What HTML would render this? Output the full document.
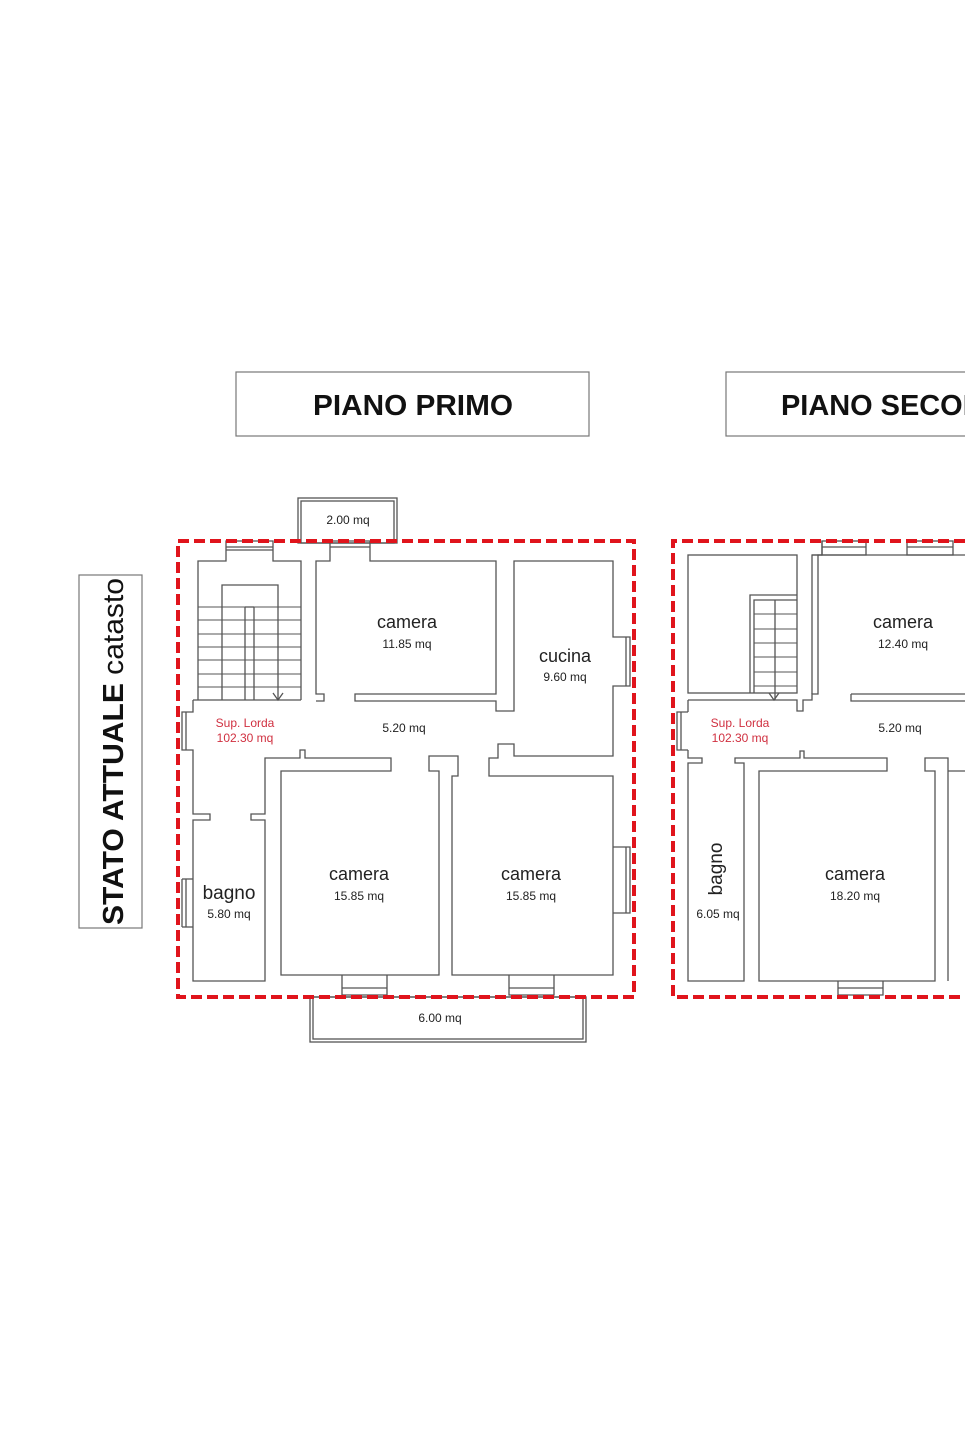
<!DOCTYPE html>
<html><head><meta charset="utf-8"><style>
html,body{margin:0;padding:0;background:#fff;width:965px;height:1448px;overflow:hidden}
svg{display:block}
text{font-family:"Liberation Sans",sans-serif}
</style></head><body>
<svg width="965" height="1448" viewBox="0 0 965 1448" xmlns="http://www.w3.org/2000/svg">
<rect width="965" height="1448" fill="#fff"/>
<!-- titles -->
<rect x="236" y="372" width="353" height="64" fill="none" stroke="#777" stroke-width="1.2"/>
<text x="413" y="415" font-size="29" font-weight="bold" text-anchor="middle" textLength="200" lengthAdjust="spacingAndGlyphs" fill="#111">PIANO PRIMO</text>
<rect x="726" y="372" width="260" height="64" fill="none" stroke="#777" stroke-width="1.2"/>
<text x="781" y="415" font-size="29" font-weight="bold" fill="#111" textLength="246" lengthAdjust="spacingAndGlyphs">PIANO SECONDO</text>
<rect x="79" y="575" width="63" height="353" fill="none" stroke="#777" stroke-width="1.2"/>
<g transform="translate(123,925) rotate(-90)">
<text x="0" y="0" font-size="29" fill="#111" textLength="347" lengthAdjust="spacingAndGlyphs"><tspan font-weight="bold">STATO ATTUALE</tspan> catasto</text>
</g>

<g fill="none" stroke="#555" stroke-width="1.3">
<!-- LEFT PLAN -->
<rect x="298" y="498" width="99" height="45"/><rect x="301" y="501" width="93" height="42"/>
<rect x="310" y="997" width="276" height="45"/><rect x="313" y="997" width="270" height="42"/>
<polyline points="301,700 301,561 273,561 273,541 226,541 226,561 198,561 198,700"/>
<line x1="226" y1="547" x2="273" y2="547"/><line x1="226" y1="550" x2="273" y2="550"/>
<polyline points="222,700 222,585 278,585 278,700"/>
<line x1="245" y1="607" x2="245" y2="700"/><line x1="254" y1="607" x2="254" y2="700"/><line x1="245" y1="607" x2="254" y2="607"/>
<g stroke-width="1">
<line x1="198" y1="607" x2="301" y2="607"/><line x1="198" y1="620" x2="301" y2="620"/><line x1="198" y1="634" x2="301" y2="634"/>
<line x1="198" y1="647" x2="301" y2="647"/><line x1="198" y1="660" x2="301" y2="660"/><line x1="198" y1="674" x2="301" y2="674"/><line x1="198" y1="687" x2="301" y2="687"/>
</g>
<polyline points="273,693 278,700 283,693"/>
<polyline points="193,700 193,712 182,712 182,750 193,750 193,814 210,814 210,820 193,820 193,981 265,981 265,820 251,820 251,814 265,814 265,758 300,758 300,750 305,750 305,758 391,758 391,771 281,771 281,975 439,975 439,771 429,771 429,756 458,756 458,776 452,776 452,975 613,975 613,776 489,776 489,758 498,758 498,744 514,744 514,756 613,756 613,686 630,686 630,637 613,637 613,561 514,561 514,711 496,711 496,701 355,701 355,694 496,694 496,561 370,561 370,541 330,541 330,561 316,561 316,694 324,694 324,701 316,701"/>
<line x1="301" y1="700" x2="193" y2="700"/>
<line x1="330" y1="547" x2="370" y2="547"/>
<line x1="186" y1="712" x2="186" y2="750"/>
<line x1="182" y1="879" x2="182" y2="927"/><line x1="186" y1="879" x2="186" y2="927"/><line x1="182" y1="879" x2="193" y2="879"/><line x1="182" y1="927" x2="193" y2="927"/>
<line x1="626" y1="637" x2="626" y2="686"/>
<polyline points="613,847 630,847 630,913 613,913"/><line x1="626" y1="847" x2="626" y2="913"/>
<polyline points="342,975 342,995 387,995 387,975"/><line x1="342" y1="988" x2="387" y2="988"/>
<polyline points="509,975 509,995 554,995 554,975"/><line x1="509" y1="988" x2="554" y2="988"/>

<!-- RIGHT PLAN -->
<rect x="688" y="555" width="109" height="138"/>
<polyline points="750,693 750,595 797,595"/>
<polyline points="754,693 754,600 797,600"/>
<line x1="775" y1="600" x2="775" y2="700"/>
<g stroke-width="1">
<line x1="754" y1="614" x2="797" y2="614"/><line x1="754" y1="629" x2="797" y2="629"/><line x1="754" y1="643" x2="797" y2="643"/>
<line x1="754" y1="657" x2="797" y2="657"/><line x1="754" y1="672" x2="797" y2="672"/><line x1="754" y1="686" x2="797" y2="686"/>
</g>
<polyline points="769,693 774,700 779,693"/>
<polyline points="688,700 797,700 797,711 803,711 803,700 812,700 812,694 818,694 818,555 822,555 822,541"/>
<polyline points="812,694 812,555 822,555"/>
<polyline points="851,694 965,694"/><polyline points="851,694 851,701 965,701"/>
<line x1="812" y1="555" x2="965" y2="555"/>
<rect x="822" y="541" width="44" height="14"/><line x1="822" y1="547" x2="866" y2="547"/>
<rect x="907" y="541" width="46" height="14"/><line x1="907" y1="547" x2="953" y2="547"/>
<polyline points="688,712 677,712 677,750 688,750"/><line x1="681" y1="712" x2="681" y2="750"/>
<line x1="688" y1="700" x2="688" y2="712"/>
<polyline points="688,750 688,758 702,758 702,763 688,763 688,981 744,981 744,763 735,763 735,758 800,758 800,751 804,751 804,758 887,758 887,771 759,771 759,981 935,981 935,771 925,771 925,758 948,758 948,981"/>
<line x1="948" y1="771" x2="965" y2="771"/>
<polyline points="838,981 838,995 883,995 883,981"/><line x1="838" y1="988" x2="883" y2="988"/>
</g>

<g fill="none" stroke="#e0141c" stroke-width="4" stroke-dasharray="11,5">
<rect x="178" y="541" width="456" height="456"/>
<polyline points="965,541 673,541 673,997 965,997"/>
</g>

<g fill="#222" text-anchor="middle">
<text x="348" y="524" font-size="12">2.00 mq</text>
<text x="407" y="628" font-size="18">camera</text>
<text x="407" y="648" font-size="12">11.85 mq</text>
<text x="565" y="662" font-size="18">cucina</text>
<text x="565" y="681" font-size="12">9.60 mq</text>
<text x="404" y="732" font-size="12">5.20 mq</text>
<text x="359" y="880" font-size="18">camera</text>
<text x="359" y="900" font-size="12">15.85 mq</text>
<text x="531" y="880" font-size="18">camera</text>
<text x="531" y="900" font-size="12">15.85 mq</text>
<text x="229" y="899" font-size="19">bagno</text>
<text x="229" y="918" font-size="12">5.80 mq</text>
<text x="440" y="1022" font-size="12">6.00 mq</text>
<text x="903" y="628" font-size="18">camera</text>
<text x="903" y="648" font-size="12">12.40 mq</text>
<text x="900" y="732" font-size="12">5.20 mq</text>
<text x="855" y="880" font-size="18">camera</text>
<text x="855" y="900" font-size="12">18.20 mq</text>
<text x="718" y="918" font-size="12">6.05 mq</text>
<text transform="translate(722,869) rotate(-90)" font-size="19">bagno</text>
</g>
<g fill="#d03040" text-anchor="middle" font-size="12">
<text x="245" y="727">Sup. Lorda</text>
<text x="245" y="742">102.30 mq</text>
<text x="740" y="727">Sup. Lorda</text>
<text x="740" y="742">102.30 mq</text>
</g>
</svg>
</body></html>
